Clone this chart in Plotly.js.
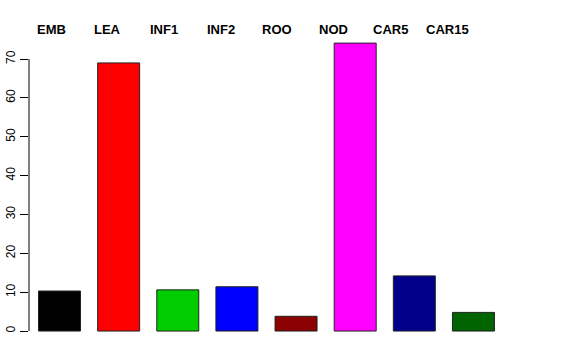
<!DOCTYPE html>
<html>
<head>
<meta charset="utf-8">
<script src="https://cdn.plot.ly/plotly-3.0.1.min.js"></script>
<style>html,body{margin:0;padding:0;background:#fff}#chart{width:576px;height:360px}</style>
</head>
<body>
<div id="chart"></div>
<script>
const categories = ["EMB", "LEA", "INF1", "INF2", "ROO", "NOD", "CAR5", "CAR15"];
const values = [10.3, 69.0, 10.6, 11.4, 3.8, 74.1, 14.2, 4.8];
const barColors = ["#000000", "#FF0000", "#00CD00", "#0000FF", "#8B0000", "#FF00FF", "#00008B", "#006400"];
const yTicks = [0, 10, 20, 30, 40, 50, 60, 70];

const xIdx = categories.map((c, i) => i);

const trace = {
  type: "bar",
  x: xIdx,
  y: values,
  marker: { color: barColors, line: { color: "#222222", width: 1 } },
  hoverinfo: "skip",
  cliponaxis: false
};

const H = 360, T = 36, B = 27;
const plotH = H - T - B;

const annotations = categories.map((c, i) => ({
  text: "<b>" + c + "</b>",
  x: -0.144 + i * 0.957,
  xref: "x",
  y: (H - B - 29) / plotH,
  yref: "paper",
  showarrow: false,
  xanchor: "center",
  yanchor: "middle",
  font: { family: "Liberation Sans, Arial, sans-serif", size: 13, color: "#000" }
}));

const layout = {
  width: 576,
  height: 360,
  margin: { l: 29, r: 10, t: T, b: B, pad: 0 },
  paper_bgcolor: "#ffffff",
  plot_bgcolor: "#ffffff",
  showlegend: false,
  bargap: 0.29,
  font: { family: "Liberation Sans, Arial, sans-serif", color: "#000" },
  xaxis: {
    range: [-0.516, 8.565],
    showticklabels: false,
    ticks: "",
    showgrid: false,
    zeroline: false,
    showline: false,
    fixedrange: true
  },
  yaxis: {
    range: [-0.5, 75.93],
    tickvals: yTicks,
    ticktext: yTicks.map(String),
    ticks: "outside",
    ticklen: 8,
    tickwidth: 1,
    tickcolor: "#000",
    tickangle: -90,
    tickfont: { size: 12, color: "#000" },
    showgrid: false,
    zeroline: false,
    showline: false,
    fixedrange: true
  },
  shapes: [{
    type: "line",
    xref: "paper", yref: "y",
    x0: 0, x1: 0, y0: yTicks[0], y1: yTicks[yTicks.length - 1],
    line: { color: "#000", width: 1 }
  }],
  annotations: annotations
};

Plotly.newPlot("chart", [trace], layout, { displayModeBar: false, staticPlot: true });
</script>
</body>
</html>
